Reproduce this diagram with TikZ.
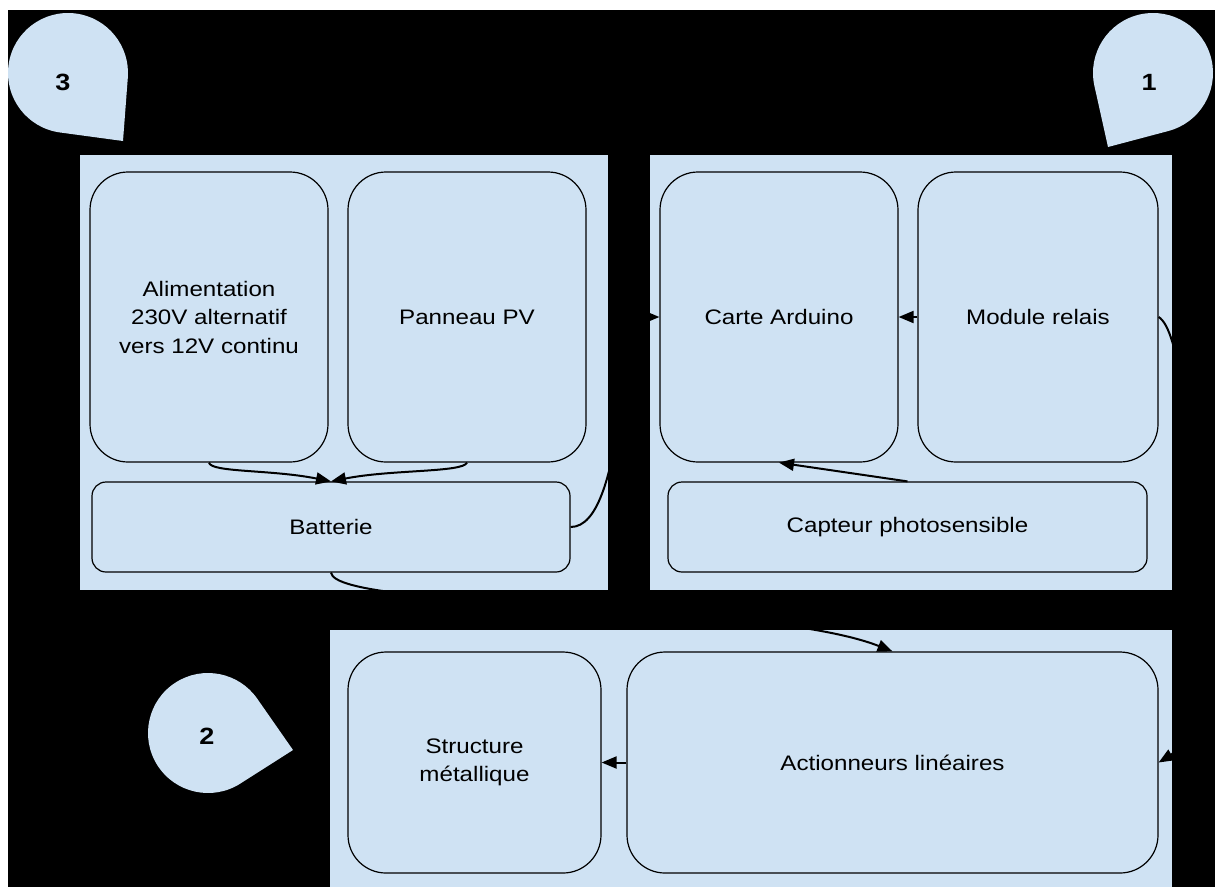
\documentclass[tikz,border=0pt]{standalone}
\usepackage{fontspec}
\setmainfont[FakeStretch=1.15]{Liberation Sans}
\usetikzlibrary{arrows.meta,calc}
\definecolor{cblue}{HTML}{CFE2F3}
\tikzset{
  panel/.style={fill=cblue, draw=none},
  box/.style={draw=black, fill=cblue, line width=1.2pt, rounded corners=38pt, align=center, inner sep=0pt,
    font=\fontsize{21}{28.5}\selectfont},
  flatbox/.style={box, rounded corners=14pt},
  conn/.style={draw=black, line width=2pt, -{Triangle[length=15pt,width=12pt]}},
  drop/.style={fill=cblue, draw=none},
  dropnum/.style={font=\fontsize{23.5}{26}\bfseries\selectfont, inner sep=0pt}
}
\begin{document}
\begin{tikzpicture}[x=1pt,y=-1pt]
\useasboundingbox[fill=white] (0,0) rectangle (1215,887);
\fill[black] (8,10) rectangle (1215,887);

% panels
\path[panel] (80,155) rectangle (608,590);
\path[panel] (650,155) rectangle (1172,590);
\path[panel] (330,630) rectangle (1172,887);

% teardrops
\path[drop] (123,141) -- ($(68,73)+(97.7:60)$) arc[start angle=97.7, end angle=364.3, radius=60] -- cycle;
\path[drop] (1108,147) -- ($(1153,73)+(167.4:60)$) arc[start angle=167.4, end angle=435.2, radius=60] -- cycle;
\path[drop] (293,750) -- ($(208,733)+(57.5:60)$) arc[start angle=57.5, end angle=325.1, radius=60] -- cycle;
\node[dropnum] (n3) at (63,82) {3};
\node[dropnum] (n1) at (1149,82) {1};
\node[dropnum] (n2) at (207,736) {2};

% nodes
\node[box, minimum width=238pt, minimum height=290pt] (alim) at (209,317) {Alimentation\\230V alternatif\\vers 12V continu};
\node[box, minimum width=238pt, minimum height=290pt] (pv) at (467,317) {Panneau PV};
\node[flatbox, minimum width=478pt, minimum height=90pt] (bat) at (331,527) {Batterie};
\node[box, minimum width=238pt, minimum height=290pt] (ard) at (779,317) {Carte Arduino};
\node[box, minimum width=240pt, minimum height=290pt] (rel) at (1038,317) {Module relais};
\node[flatbox, minimum width=479pt, minimum height=90pt] (cap) at (907.5,527) {Capteur photosensible};
\node[box, minimum width=253pt, minimum height=221pt] (str) at (474.5,762.5) {Structure\\métallique};
\node[box, minimum width=531pt, minimum height=221pt] (act) at (892.5,762.5) {Actionneurs linéaires};

% connectors
\draw[conn] (alim.south) .. controls +(2,10) and +(-60,-12) .. (bat.north);
\draw[conn] (pv.south) .. controls +(-4,10) and +(60,-12) .. (bat.north);
\draw[conn] (bat.east) .. controls +(55,0) and +(-40,0) .. (ard.west);
\draw[conn] (rel.west) -- (ard.east);
\draw[conn] (rel.east) .. controls +(42,25) and +(42,-25) .. (act.east);
\draw[conn] (cap.north) -- (ard.south);
\draw[conn] (bat.south) .. controls +(5,38) and +(-132,-52) .. (act.north);
\draw[conn] (act.west) -- (str.east);
\end{tikzpicture}
\end{document}
